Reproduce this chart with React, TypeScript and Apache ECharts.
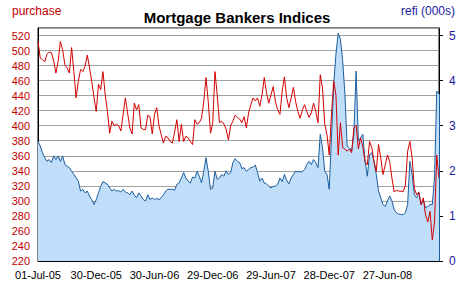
import React, { useEffect, useRef } from "react";
import * as echarts from "echarts";

const START_DATE = "2005-07-01";
const WEEKS = 180;
const MONTHS = ["Jan", "Feb", "Mar", "Apr", "May", "Jun", "Jul", "Aug", "Sep", "Oct", "Nov", "Dec"];

function makeWeeks(): string[] {
  const out: string[] = [];
  const d0 = new Date(START_DATE + "T12:00:00Z");
  for (let i = 0; i < WEEKS; i++) {
    const d = new Date(d0.getTime() + i * 7 * 86400000);
    const dd = String(d.getUTCDate()).padStart(2, "0");
    const yy = String(d.getUTCFullYear() % 100).padStart(2, "0");
    out.push(`${dd}-${MONTHS[d.getUTCMonth()]}-${yy}`);
  }
  return out;
}
const categories = makeWeeks();

const purchase = [
  512, 490, 488, 485, 495, 498, 497, 486, 470, 486,
  512, 501, 481, 477, 470, 504, 472, 437, 459, 475,
  472, 479, 494, 477, 459, 437, 419, 455, 448, 472,
  441, 419, 390, 406, 400, 402, 400, 393, 415, 437,
  417, 397, 389, 430, 421, 428, 397, 395, 395, 414,
  412, 389, 415, 424, 400, 388, 377, 386, 384, 379,
  377, 392, 408, 379, 402, 379, 386, 384, 379, 375,
  408, 402, 404, 410, 432, 464, 432, 390, 404, 472,
  441, 404, 406, 402, 395, 381, 400, 406, 414, 411,
  409, 404, 412, 397, 417, 428, 437, 433, 437, 426,
  441, 464, 444, 430, 441, 452, 432, 421, 415, 446,
  465, 437, 424, 437, 451, 432, 419, 410, 421, 428,
  419, 411, 417, 430, 419, 404, 468, 450, 402, 388,
  361, 415, 459, 441, 361, 404, 371, 369, 366, 369,
  364, 397, 401, 369, 384, 372, 352, 348, 379, 371,
  352, 339, 375, 357, 335, 348, 361, 352, 330, 312,
  314, 313, 313, 312, 321, 366, 379, 357, 317, 308,
  312, 295, 304, 281, 272, 286, 248, 272, 361, 330,
];

const refi = [
  2.66, 2.55, 2.4, 2.29, 2.21, 2.25, 2.18, 2.33, 2.25, 2.33,
  2.21, 2.33, 2.14, 2.1, 2.07, 1.99, 1.92, 1.84, 1.77, 1.55,
  1.59, 1.51, 1.55, 1.44, 1.36, 1.25, 1.36, 1.51, 1.66, 1.76,
  1.73, 1.7, 1.62, 1.55, 1.59, 1.55, 1.56, 1.53, 1.59, 1.53,
  1.51, 1.47, 1.55, 1.46, 1.4, 1.51, 1.44, 1.36, 1.33, 1.47,
  1.36, 1.4, 1.36, 1.39, 1.36, 1.4, 1.47, 1.55, 1.59, 1.59,
  1.59, 1.57, 1.7, 1.73, 1.84, 1.96, 1.84, 1.77, 1.73, 1.86,
  1.84, 1.99, 1.88, 1.73, 1.99, 2.29, 1.99, 1.59, 1.62, 1.99,
  1.81, 1.84, 1.92, 1.88, 2.0, 1.92, 1.96, 2.18, 2.27, 2.21,
  2.18, 2.05, 2.07, 1.99, 2.03, 2.07, 2.08, 2.13, 1.96, 1.77,
  1.84, 1.73, 1.71, 1.66, 1.62, 1.66, 1.66, 1.7, 1.84, 1.76,
  1.92, 1.79, 1.71, 1.84, 1.92, 1.99, 1.98, 1.98, 1.98, 2.03,
  2.14, 2.21, 2.14, 2.25, 2.18, 2.07, 2.81, 2.51, 1.99, 1.92,
  1.59, 2.73, 3.92, 4.59, 5.05, 4.92, 4.44, 3.7, 2.55, 2.51,
  2.44, 2.81, 4.21, 2.66, 2.73, 2.81, 2.21, 1.88, 2.36, 2.4,
  2.21, 1.92, 1.55, 1.4, 1.25, 1.21, 1.33, 1.44, 1.33, 1.14,
  1.07, 1.04, 1.03, 1.03, 1.07, 1.25, 2.21, 1.92, 1.47, 1.4,
  1.51, 1.25, 1.36, 1.18, 1.21, 1.25, 1.25, 1.84, 3.77, 3.7,
];

const TITLE = "Mortgage Bankers Indices";
const LEFT_NAME = "purchase";
const RIGHT_NAME = "refi (000s)";

const FONT = "'Liberation Sans', Arial, sans-serif";
const RED = "#d40000";
const LABEL_RED = "#c00000";
const LABEL_BLUE = "#1a1aa0";
const FILL_BLUE = "#c0defa";
const LINE_BLUE = "#1b5e9c";

export default function App() {
  const ref = useRef<HTMLDivElement>(null);
  useEffect(() => {
    if (!ref.current) return;
    const chart = echarts.init(ref.current, undefined, { renderer: "svg" });
    const lastCat = categories[categories.length - 1];
    const lastRefi = refi[refi.length - 1];
    chart.setOption({
      animation: false,
      backgroundColor: "#ffffff",
      textStyle: { fontFamily: FONT },
      title: {
        text: TITLE,
        left: "center",
        top: 5,
        textStyle: { fontSize: 15, fontWeight: "bold", color: "#000", fontFamily: FONT },
      },
      graphic: [
        {
          type: "text",
          left: 12,
          top: 5,
          style: { text: LEFT_NAME, fill: LABEL_RED, fontSize: 12, fontFamily: FONT },
        },
        {
          type: "text",
          left: 401,
          top: 5,
          style: { text: RIGHT_NAME, fill: LABEL_BLUE, fontSize: 12, fontFamily: FONT },
        },
      ],
      grid: {
        left: 38,
        right: 35,
        top: 28,
        bottom: 28,
        show: true,
        borderColor: "#000",
        borderWidth: 1,
        backgroundColor: "transparent",
      },
      xAxis: {
        type: "category",
        data: categories,
        boundaryGap: false,
        axisLine: { show: true, lineStyle: { color: "#000", width: 1 } },
        axisTick: { show: false },
        axisLabel: { interval: 25, fontSize: 11, color: "#000", margin: 8, fontFamily: FONT },
        splitLine: { show: false },
      },
      yAxis: [
        {
          type: "value",
          min: 220,
          max: 530,
          interval: 20,
          position: "left",
          axisLine: { show: true, lineStyle: { color: "#000", width: 1 } },
          axisTick: { show: false },
          axisLabel: { fontSize: 11, color: LABEL_RED, margin: 8, showMaxLabel: false, fontFamily: FONT },
          splitLine: { show: true, lineStyle: { color: "#a0a0a0", width: 1 } },
        },
        {
          type: "value",
          min: 0,
          max: 5.1667,
          interval: 1,
          position: "right",
          axisLine: { show: true, lineStyle: { color: "#000", width: 1 } },
          axisTick: { show: true, length: 4, lineStyle: { color: "#000" } },
          axisLabel: { fontSize: 12, color: LABEL_BLUE, margin: 10, showMaxLabel: false, fontFamily: FONT },
          splitLine: { show: false },
        },
      ],
      series: [
        {
          name: RIGHT_NAME,
          type: "line",
          yAxisIndex: 1,
          data: refi,
          symbol: "none",
          lineStyle: { color: LINE_BLUE, width: 1 },
          areaStyle: { color: FILL_BLUE, opacity: 1 },
          z: 2,
          markLine: {
            silent: true,
            symbol: "none",
            label: { show: false },
            lineStyle: { color: LINE_BLUE, width: 1, type: "solid" },
            data: [[{ coord: [lastCat, 0] }, { coord: [lastCat, lastRefi] }]],
          },
        },
        {
          name: LEFT_NAME,
          type: "line",
          yAxisIndex: 0,
          data: purchase,
          symbol: "none",
          lineStyle: { color: RED, width: 1 },
          z: 3,
        },
      ],
    });
    return () => chart.dispose();
  }, []);
  return (
    <div
      ref={ref}
      style={{ position: "fixed", left: 0, top: 0, width: 474, height: 289 }}
    />
  );
}
